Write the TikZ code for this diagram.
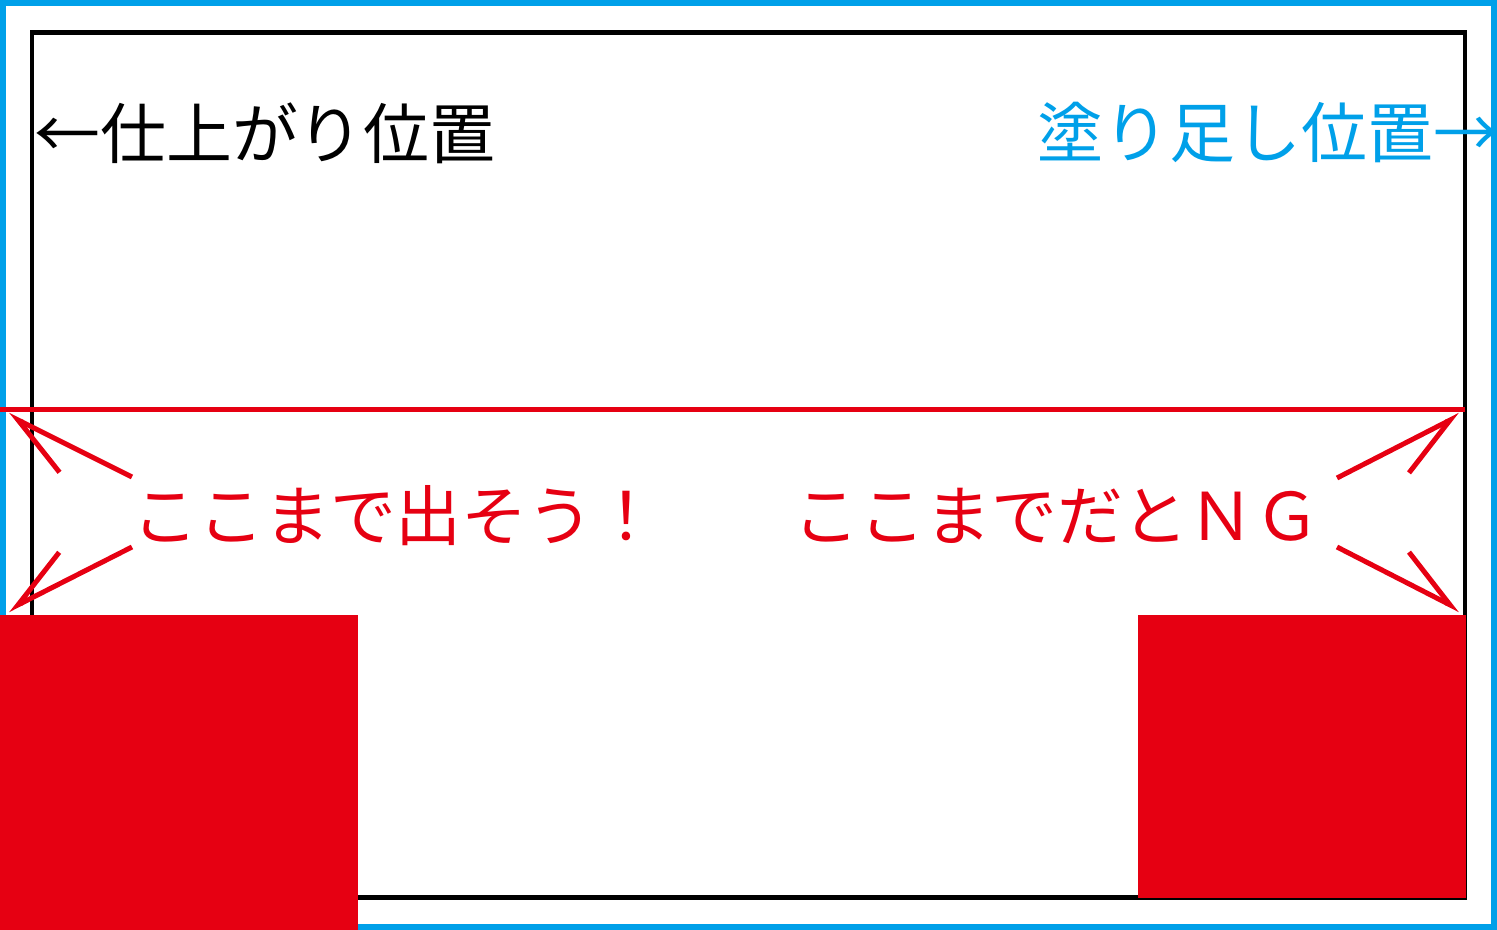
\documentclass[tikz,border=0pt]{standalone}
\usepackage{fontspec}
\setmainfont{Noto Sans CJK JP}
\usepackage{xcolor}
\usetikzlibrary{arrows.meta}
\definecolor{bleedblue}{HTML}{00A0E9}
\definecolor{ngred}{HTML}{E60012}

\begin{document}
\begin{tikzpicture}[jptext/.style={inner sep=0pt,font=\fontsize{37.5}{40}\selectfont},
    pointer/.style={draw=ngred,line width=0.1cm,-{Straight Barb[harpoon,length=1.21cm,width=1.13cm]}},
    pointerswap/.style={draw=ngred,line width=0.1cm,-{Straight Barb[harpoon,swap,length=1.21cm,width=1.13cm]}}]
    %\draw[help lines] (-15,-9) grid (15,9); % Only for Development
    \useasboundingbox (-14.97,-9.3) rectangle (14.97,9.3);

    % bleed and trim frames
    \draw[draw=bleedblue,line width=0.12cm] (-14.91,-9.24) rectangle (14.91,9.24);
    \draw[draw=black,line width=0.09cm] (-14.33,-8.65) rectangle (14.33,8.65);

    \node[jptext,anchor=west] (trim) at (-14.29,6.64) {←仕上がり位置};
    \node[jptext,anchor=east,text=bleedblue] (bleed) at (15.02,6.64) {塗り足し位置→};

    \draw[draw=ngred,line width=0.1cm] (-14.97,1.1) -- (14.33,1.1);

    \node[shape=rectangle,
      fill=ngred,
      inner sep=0pt,
      minimum width = 7.16cm,
      minimum height = 6.3cm] (okblock) at (-11.39,-6.15) {};
    \node[shape=rectangle,
      fill=ngred,
      inner sep=0pt,
      minimum width = 6.56cm,
      minimum height = 5.66cm] (ngblock) at (11.07,-5.83) {};

    \node[jptext,text=ngred] (ok) at (-7.05,-1.02) {ここまで出そう！};
    \node[jptext,text=ngred] (ng) at (6.17,-1.02) {ここまでだとＮＧ};

    \coordinate (okUpTail) at (-12.33,-0.24);
    \coordinate (okUpTip) at (-14.81,1.0);
    \coordinate (okDnTail) at (-12.33,-1.64);
    \coordinate (okDnTip) at (-14.81,-2.9);
    \coordinate (ngUpTail) at (11.77,-0.26);
    \coordinate (ngUpTip) at (14.23,1.0);
    \coordinate (ngDnTail) at (11.77,-1.64);
    \coordinate (ngDnTip) at (14.23,-2.9);

    \draw[pointer] (okUpTail) -- (okUpTip);
    \draw[pointerswap] (okDnTail) -- (okDnTip);
    \draw[pointerswap] (ngUpTail) -- (ngUpTip);
    \draw[pointer] (ngDnTail) -- (ngDnTip);
\end{tikzpicture}
\end{document}
